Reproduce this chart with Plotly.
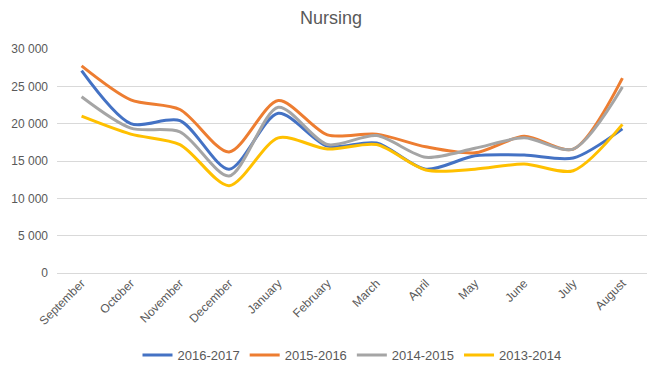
import plotly.graph_objects as go

months = ["September", "October", "November", "December", "January", "February",
          "March", "April", "May", "June", "July", "August"]
s_2016_2017 = [27100, 20000, 20400, 13900, 21400, 17000, 17400, 13900, 15700, 15800, 15400, 19300]
s_2015_2016 = [27750, 23200, 21900, 16200, 23100, 18500, 18600, 16900, 16100, 18300, 16600, 26100]
s_2014_2015 = [23600, 19400, 18900, 13000, 22200, 17200, 18400, 15500, 16700, 18100, 16600, 24900]
s_2013_2014 = [21000, 18600, 17200, 11700, 18100, 16600, 17200, 13800, 13900, 14600, 13700, 19900]

series = [
    ("2016-2017", s_2016_2017, "#4472C4"),
    ("2015-2016", s_2015_2016, "#ED7D31"),
    ("2014-2015", s_2014_2015, "#A5A5A5"),
    ("2013-2014", s_2013_2014, "#FFC000"),
]

fig = go.Figure()
for name, vals, color in series:
    fig.add_trace(go.Scatter(
        x=months, y=vals, name=name, mode="lines",
        line=dict(color=color, width=3, shape="spline", smoothing=0.8),
    ))

fig.update_layout(
    width=662, height=372,
    margin=dict(l=57, r=15, t=49, b=99, autoexpand=False),
    paper_bgcolor="white", plot_bgcolor="white",
    separators=". ",
    font=dict(family="Liberation Sans, Arial, sans-serif", size=12, color="#595959"),
    title=dict(text="Nursing", x=0.5, xanchor="center", y=0.952, yanchor="middle",
               font=dict(size=18, color="#595959")),
    showlegend=True,
    legend=dict(orientation="h", x=0.5, xanchor="center", y=-0.366, yanchor="middle",
                font=dict(family="Liberation Sans Narrow, Liberation Sans, Arial, sans-serif",
                          size=13, color="#595959"),
                itemwidth=30, tracegroupgap=0),
    xaxis=dict(tickangle=-45, showgrid=False, showline=False, ticks="",
               range=[-0.5, 11.5], automargin=False,
               tickfont=dict(size=12, color="#595959")),
    yaxis=dict(range=[0, 30000], dtick=5000, tickformat=",d", showgrid=True,
               gridcolor="#D9D9D9", gridwidth=1, zeroline=True, zerolinecolor="#D9D9D9",
               zerolinewidth=1, showline=False, ticks="", automargin=False,
               ticklabelstandoff=8,
               tickfont=dict(size=12, color="#595959")),
)

fig.write_html("out.html", config={"displayModeBar": False},
               post_script="document.body.style.margin='0';document.body.style.overflow='hidden';")
